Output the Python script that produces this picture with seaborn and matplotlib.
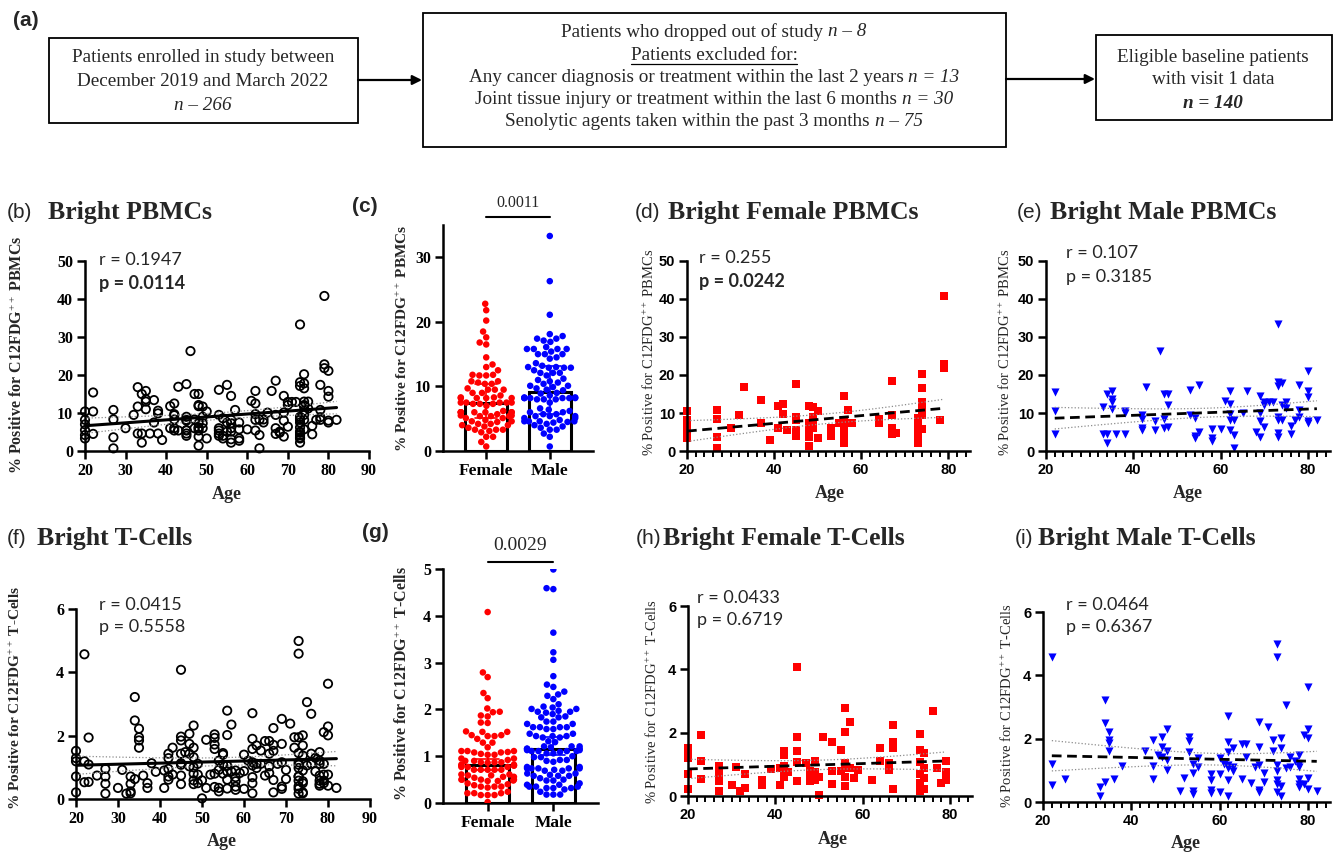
import numpy as np
import pandas as pd
import matplotlib
matplotlib.use('Agg')
import matplotlib.pyplot as plt
from matplotlib.patches import Rectangle
from matplotlib.ticker import MultipleLocator
import seaborn as sns

""" Data read off the figure """
# Female PBMCs (panel d), age and % positive
female_pbmc_age = [20, 20, 20, 20, 20, 20, 27, 27, 27, 27, 30, 32, 33, 37, 37, 39, 41, 41, 42, 42, 43,
                   45, 45, 45, 45, 45, 45, 48, 48, 48, 48, 48, 48, 49, 49, 49, 49, 50, 50, 53, 53, 53, 53, 55,
                   56, 56, 56, 56, 56, 56, 56, 57, 58, 64, 64, 67, 67, 67, 67, 68,
                   73, 73, 73, 73, 73, 73, 73, 74, 74, 74, 74, 74, 74, 74, 78, 79, 79, 79]
female_pbmc = [10.4, 8.2, 7.0, 5.5, 4.2, 3.3, 10.8, 8.3, 3.6, 0.7, 6.0, 9.5, 16.8, 13.4, 7.5, 2.9, 11.8, 6.0, 12.5, 9.7, 5.4,
               17.6, 9.0, 8.2, 5.5, 4.6, 4.0, 11.8, 7.3, 6.0, 5.4, 3.8, 1.4, 11.7, 9.0, 7.3, 6.0, 10.4, 3.3, 6.0, 5.4, 4.6, 4.0, 7.5,
               14.5, 8.2, 7.3, 6.0, 5.1, 3.1, 2.2, 10.8, 7.5, 8.3, 7.5, 18.5, 9.5, 6.0, 4.5, 4.8,
               8.6, 7.5, 6.2, 5.1, 4.2, 3.3, 2.2, 20.2, 16.5, 13.0, 11.7, 10.6, 9.5, 5.7, 8.2, 40.8, 22.8, 21.8]

# Male PBMCs (panel e)
male_pbmc_age = [22, 22, 22, 33, 33, 34, 34, 34, 35, 35, 35, 35, 36, 38, 38, 38, 42, 42, 42, 42, 43, 45, 45, 46,
                 47, 47, 47, 48, 48, 48, 53, 53, 54, 54, 54, 55, 55, 58, 58, 58, 60, 61, 62, 62, 62, 62, 62,
                 63, 63, 63, 65, 66, 68, 69, 69, 69, 69, 70, 70, 70, 71, 72, 73, 73, 73, 73, 73, 73, 73,
                 74, 74, 74, 75, 75, 76, 76, 77, 78, 78, 78, 80, 80, 80, 80, 80, 82]
male_pbmc = [15.4, 10.4, 4.5, 11.7, 4.6, 15.0, 4.6, 2.2, 15.8, 13.6, 13.0, 11.0, 4.6, 10.6, 9.9, 4.6, 9.4, 8.3, 6.0, 5.4,
             16.9, 8.0, 5.4, 26.3, 15.0, 8.3, 6.0, 15.0, 12.1, 6.2, 16.1, 9.5, 8.6, 4.0, 3.3, 17.4, 5.1, 5.7, 3.3, 2.7,
             5.7, 13.2, 15.8, 12.5, 9.7, 8.2, 5.4, 8.2, 4.2, 0.7, 10.1, 15.8, 5.1, 14.5, 10.1, 8.0, 3.8, 12.9, 12.1, 6.4,
             12.9, 12.9, 33.3, 18.1, 17.1, 9.0, 8.2, 4.8, 3.6, 17.8, 12.1, 8.2, 13.0, 11.2, 6.6, 4.4, 8.2,
             17.4, 10.8, 8.9, 21.1, 15.8, 14.3, 8.0, 7.5, 8.2]

# Female T-cells (panel h)
female_t_age = [20, 20, 20, 20, 20, 23, 23, 23, 27, 27, 27, 27, 30, 31, 32, 33, 33, 37, 37, 39, 41, 41,
                42, 42, 42, 42, 42, 43, 45, 45, 45, 45, 45, 47, 48, 48, 48, 49, 49, 49, 50, 50, 51, 53, 53, 53,
                55, 55, 56, 56, 56, 56, 56, 56, 57, 57, 58, 59, 62, 64, 64, 66, 66, 67, 67, 67, 67,
                73, 73, 73, 73, 73, 73, 74, 74, 74, 74, 76, 77, 78, 79, 79, 79]
female_t = [1.52, 1.29, 1.19, 0.71, 0.21, 1.94, 1.09, 0.54, 0.95, 0.71, 0.48, 0.17, 0.35, 0.92, 0.17, 0.71, 0.24,
            0.50, 0.35, 0.86, 0.90, 0.35, 1.43, 1.29, 0.95, 0.71, 0.61, 0.77, 4.08, 1.85, 1.43, 1.08, 0.47, 1.03,
            0.80, 0.59, 0.47, 1.11, 0.77, 0.50, 0.59, 0.02, 1.87, 1.72, 0.80, 0.38, 1.45, 0.80,
            2.79, 2.02, 1.05, 0.87, 0.61, 0.33, 2.35, 0.87, 0.56, 0.82, 0.50, 1.53, 1.11, 1.03, 0.82,
            2.24, 1.71, 1.52, 0.21, 1.95, 1.45, 1.08, 0.71, 0.40, 0.17, 1.37, 0.90, 0.56, 0.21,
            2.69, 0.87, 0.42, 1.11, 0.77, 0.50]

# Male T-cells (panel i)
male_t_age = [22, 22, 22, 25, 33, 33, 34, 34, 34, 35, 35, 35, 35, 36, 38, 43, 45, 45, 45, 46, 47, 47, 47,
              48, 48, 48, 48, 51, 52, 53, 53, 53, 54, 54, 54, 54, 55, 55, 58, 58, 58, 58, 60, 60, 60, 61,
              62, 62, 62, 62, 62, 62, 62, 63, 63, 63, 65, 65, 66, 66, 67, 68, 69, 69, 69, 69, 69, 70, 70, 71,
              72, 72, 73, 73, 73, 73, 73, 73, 73, 74, 74, 74, 74, 75, 75, 76, 76, 77,
              78, 78, 78, 78, 78, 78, 79, 79, 80, 80, 80, 80, 80, 82]
male_t = [4.57, 1.19, 0.53, 0.74, 0.48, 0.18, 3.22, 2.48, 0.63, 2.22, 1.95, 1.85, 1.62, 0.74, 1.13, 1.62,
          1.97, 1.13, 0.74, 1.48, 2.06, 1.74, 1.43, 2.32, 1.62, 1.32, 1.00, 0.35, 0.77, 2.04, 1.93, 1.58,
          1.21, 0.92, 0.35, 0.24, 1.40, 1.09, 0.90, 0.69, 0.39, 0.29, 1.40, 0.88, 0.32, 1.21,
          2.71, 1.90, 1.58, 1.16, 1.06, 0.69, 0.18, 1.69, 1.11, 0.98, 1.83, 0.74, 1.83, 1.43, 0.60, 1.11,
          2.53, 1.74, 1.16, 0.39, 0.32, 0.92, 0.63, 2.38, 1.95, 1.62, 4.99, 4.59, 1.16, 0.98, 0.71, 0.58, 0.32,
          2.01, 1.69, 0.50, 0.18, 3.06, 1.06, 1.43, 1.11, 1.30, 1.48, 1.21, 1.11, 0.74, 0.58, 0.48,
          2.11, 0.58, 3.64, 2.29, 2.01, 0.77, 0.42, 0.35]

sex_labels = ['Female', 'Male']
stats_text = {'b': ('r = 0.1947', 'p = 0.0114'), 'd': ('r = 0.255', 'p = 0.0242'),
              'e': ('r = 0.107', 'p = 0.3185'), 'f': ('r = 0.0415', 'p = 0.5558'),
              'h': ('r = 0.0433', 'p = 0.6719'), 'i': ('r = 0.0464', 'p = 0.6367')}
pvals_sex = {'c': '0.0011', 'g': '0.0029'}

""" Style """
sns.set_theme(style='ticks', rc={'axes.edgecolor': 'black', 'xtick.color': 'black',
                                 'ytick.color': 'black', 'axes.linewidth': 1.8})
plt.rcParams['font.family'] = ['Liberation Serif', 'DejaVu Sans']
plt.rcParams['mathtext.fontset'] = 'custom'
plt.rcParams['mathtext.rm'] = 'Liberation Serif'
plt.rcParams['mathtext.it'] = 'Liberation Serif:italic'
plt.rcParams['mathtext.bf'] = 'Liberation Serif:bold'

W, H = 1336, 852
fig = plt.figure(figsize=(W / 100, H / 100), dpi=100)
renderer = fig.canvas.get_renderer()


def box(l, r, t, b):
    return [l / W, 1 - b / H, (r - l) / W, (b - t) / H]


def ftext(x, y, s, **kw):
    kw.setdefault('va', 'center')
    return fig.text(x / W, 1 - y / H, s, **kw)


""" (a) Flow chart """
axa = fig.add_axes([0, 1 - 155 / H, 1, 155 / H])
axa.set_xlim(0, W)
axa.set_ylim(155, 0)
axa.axis('off')
for (l, t, r, b) in [(49, 38, 358, 123), (423, 13, 1006, 147), (1096, 35, 1332, 120)]:
    axa.add_patch(Rectangle((l, t), r - l, b - t, fill=False, lw=1.3, ec='black'))
for (x0, x1, y) in [(358, 422, 80), (1006, 1095, 79)]:
    axa.annotate('', xy=(x1, y), xytext=(x0, y),
                 arrowprops=dict(arrowstyle='-|>', color='black', lw=1.6, mutation_scale=14,
                                 shrinkA=0, shrinkB=0))

FS = 13.8
base = dict(fontsize=FS, family='Liberation Serif')


def seg_width(s, **kw):
    t = axa.text(0, 0, s, **kw)
    w = t.get_window_extent(renderer).width
    t.remove()
    return w


space_w = seg_width('x x', **base) - seg_width('xx', **base)


def rich_line(xc, y, parts):
    widths = [seg_width(s, **base, **st) for s, st in parts]
    total = sum(widths) + space_w * (len(parts) - 1)
    x = xc - total / 2
    for (s, st), w in zip(parts, widths):
        axa.text(x, y, s, ha='left', va='center', **base, **st)
        x += w + space_w
    return total


it = {'fontstyle': 'italic'}
rich_line(203, 58, [('Patients enrolled in study between', {})])
rich_line(203, 82, [('December 2019 and March 2022', {})])
rich_line(203, 105, [('n \u2013 266', it)])
rich_line(714, 32, [('Patients who dropped out of study', {}), ('n \u2013 8', it)])
w_ex = rich_line(714, 55, [('Patients excluded for:', {})])
axa.plot([714 - w_ex / 2, 714 + w_ex / 2], [64, 64], color='black', lw=0.9)
rich_line(714, 77, [('Any cancer diagnosis or treatment within the last 2 years', {}), ('n = 13', it)])
rich_line(714, 99, [('Joint tissue injury or treatment within the last 6 months', {}), ('n = 30', it)])
rich_line(714, 122, [('Senolytic agents taken within the past 3 months', {}), ('n \u2013 75', it)])
rich_line(1213, 57, [('Eligible baseline patients', {})])
rich_line(1213, 79, [('with visit 1 data', {})])
rich_line(1213, 103, [('n = 140', {'fontstyle': 'italic', 'fontweight': 'bold'})])
ftext(13, 20, '(a)', family='Liberation Sans', fontweight='bold', fontsize=15)

""" Helpers for the panels """


def style_ticks(ax, family, size):
    for lab in ax.get_xticklabels() + ax.get_yticklabels():
        lab.set_fontfamily(family)
        lab.set_fontweight('bold')
        lab.set_fontsize(size)
    ax.tick_params(which='major', length=6, width=1.8, pad=2.5)
    ax.tick_params(which='minor', length=4, width=1.4)
    sns.despine(ax=ax)


def fit_line(ax, x, y, lw, ls):
    x = np.asarray(x, float)
    y = np.asarray(y, float)
    n = len(x)
    slope, icpt = np.polyfit(x, y, 1)
    xs = np.linspace(x.min(), x.max(), 100)
    ys = icpt + slope * xs
    s = np.sqrt(((y - (icpt + slope * x)) ** 2).sum() / (n - 2))
    se = s * np.sqrt(1 / n + (xs - x.mean()) ** 2 / ((x - x.mean()) ** 2).sum())
    ax.plot(xs, ys + 1.98 * se, color='0.55', lw=0.9, ls=':')
    ax.plot(xs, ys - 1.98 * se, color='0.55', lw=0.9, ls=':')
    ax.plot(xs, ys, color='black', lw=lw, ls=ls)


def scatter_panel(rect, age, val, marker, color, size, xmax, ymax, yticks, sub):
    ax = fig.add_axes(rect)
    sns.scatterplot(x=age, y=val, marker=marker, color=color, s=size, linewidth=0, ax=ax)
    pts = ax.collections[-1]
    pts.set_clip_on(False)
    if color == 'none':
        pts.set_facecolor('none')
        pts.set_edgecolor('black')
        pts.set_linewidth(1.3)
    if sub:
        fit_line(ax, age, val, 2.0, (0, (3.5, 2)))
        ax.set_xticks([20, 40, 60, 80])
        ax.xaxis.set_minor_locator(MultipleLocator(2))
        fam = 'Liberation Sans'
        fs = 10.5
    else:
        fit_line(ax, age, val, 2.2, '-')
        ax.set_xticks(range(20, 100, 10))
        fam = 'Liberation Serif'
        fs = 11.5
    ax.set_xlim(20, xmax)
    ax.set_ylim(0, ymax)
    ax.set_yticks(yticks)
    ax.set_xlabel('')
    ax.set_ylabel('')
    style_ticks(ax, fam, fs)
    return ax


def sex_panel(rect, fem, mal, ymax, yticks, err, ptxt, p_line, p_y, p_fs):
    ax = fig.add_axes(rect)
    df = pd.DataFrame({'Sex': ['Female'] * len(fem) + ['Male'] * len(mal),
                       'Value': list(fem) + list(mal)})
    sns.barplot(data=df, x='Sex', y='Value', order=sex_labels, estimator='median', errorbar=err,
                capsize=0.35, width=0.66, color='white', edgecolor='black', linewidth=2.2,
                err_kws={'linewidth': 1.2}, ax=ax)
    for line, col in zip(ax.lines, ['red', 'blue']):
        line.set_color(col)
    sns.swarmplot(data=df, x='Sex', y='Value', order=sex_labels, hue='Sex',
                  palette={'Female': 'red', 'Male': 'blue'}, size=4.7, linewidth=0,
                  legend=False, ax=ax)
    ax.set_ylim(0, ymax)
    ax.set_yticks(yticks)
    ax.set_xlim(-0.68, 1.68)
    ax.set_xlabel('')
    ax.set_ylabel('')
    style_ticks(ax, 'Liberation Serif', 11.5)
    for lab in ax.get_xticklabels():
        lab.set_fontsize(12.5)
    ax.plot([0, 1], [p_line, p_line], color='black', lw=1.5, clip_on=False)
    ax.text(0.5, p_y, ptxt, ha='center', va='center', fontsize=p_fs, family='Liberation Serif')
    return ax


def title(x_lab, x_txt, y, lab, txt, lab_bold=False):
    ftext(x_lab, y, lab, family='Liberation Sans', fontsize=15,
          fontweight='bold' if lab_bold else 'normal')
    if txt:
        ftext(x_txt, y, txt, family='Liberation Serif', fontweight='bold', fontsize=18.5)


def stats(x, y1, y2, key):
    r_s, p_s = stats_text[key]
    bold_p = key in ('b', 'd')
    ftext(x, y1, r_s, family='Lato', fontsize=13)
    ftext(x, y2, p_s, family='Lato', fontsize=13, fontweight='bold' if bold_p else 'normal')


lab_pbmc = '% Positive for C12FDG$^{++}$ PBMCs'
lab_t = '% Positive for C12FDG$^{++}$ T-Cells'

""" Top row: PBMCs """
all_pbmc_age = female_pbmc_age + male_pbmc_age
all_pbmc = female_pbmc + male_pbmc
scatter_panel(box(85, 369, 261, 451), all_pbmc_age, all_pbmc, 'o', 'none', 36, 90, 50,
              range(0, 60, 10), False)
sex_panel(box(443, 593, 225, 451), female_pbmc, male_pbmc, 35, [0, 10, 20, 30], ('pi', 50),
          pvals_sex['c'], 36.2, 38.4, 11.5)
scatter_panel(box(687, 970, 261, 451), female_pbmc_age, female_pbmc, 's', 'red', 28, 85, 50,
              range(0, 60, 10), True)
scatter_panel(box(1046, 1330, 261, 451), male_pbmc_age, male_pbmc, 'v', 'blue', 34, 85, 50,
              range(0, 60, 10), True)

""" Bottom row: T-cells """
all_t_age = female_t_age + male_t_age
all_t = female_t + male_t
scatter_panel(box(76, 370, 609, 799), all_t_age, all_t, 'o', 'none', 36, 90, 6, [0, 2, 4, 6], False)
sex_panel(box(443, 598, 569, 803), female_t, male_t, 5, [0, 1, 2, 3, 4, 5], ('ci', 95),
          pvals_sex['g'], 5.15, 5.51, 14)
scatter_panel(box(688, 972, 606, 796), female_t_age, female_t, 's', 'red', 28, 85, 6, [0, 2, 4, 6], True)
scatter_panel(box(1043, 1330, 612, 802), male_t_age, male_t, 'v', 'blue', 34, 85, 6, [0, 2, 4, 6], True)

""" Titles, stats text and axis labels """
title(7, 48, 212, '(b)', 'Bright PBMCs')
title(352, 0, 207, '(c)', None, True)
title(635, 668, 212, '(d)', 'Bright Female PBMCs')
title(1017, 1050, 212, '(e)', 'Bright Male PBMCs')
title(7, 37, 538, '(f)', 'Bright T-Cells')
title(362, 0, 533, '(g)', None, True)
title(636, 663, 538, '(h)', 'Bright Female T-Cells')
title(1015, 1038, 538, '(i)', 'Bright Male T-Cells')

stats(99, 260, 283, 'b')
stats(699, 258, 282, 'd')
stats(1066, 253, 277, 'e')
stats(99, 605, 627, 'f')
stats(697, 598, 620, 'h')
stats(1066, 605, 627, 'i')

ftext(18, 355, lab_pbmc, rotation=90, ha='center', fontweight='bold', fontsize=11.5)
ftext(402, 338, lab_pbmc, rotation=90, ha='center', fontweight='bold', fontsize=11)
ftext(649, 352, lab_pbmc, rotation=90, ha='center', fontsize=10.5)
ftext(1005, 352, lab_pbmc, rotation=90, ha='center', fontsize=10.5)
ftext(15, 698, lab_t, rotation=90, ha='center', fontweight='bold', fontsize=11)
ftext(403, 684, lab_t, rotation=90, ha='center', fontweight='bold', fontsize=11.5)
ftext(652, 702, lab_t, rotation=90, ha='center', fontsize=10.5)
ftext(1007, 706, lab_t, rotation=90, ha='center', fontsize=10.5)

for (x, y) in [(227, 494), (830, 493), (1188, 493), (222, 842), (833, 840), (1186, 843)]:
    ftext(x, y, 'Age', ha='center', fontweight='bold', fontsize=13)

plt.savefig('out.png', dpi=100)
